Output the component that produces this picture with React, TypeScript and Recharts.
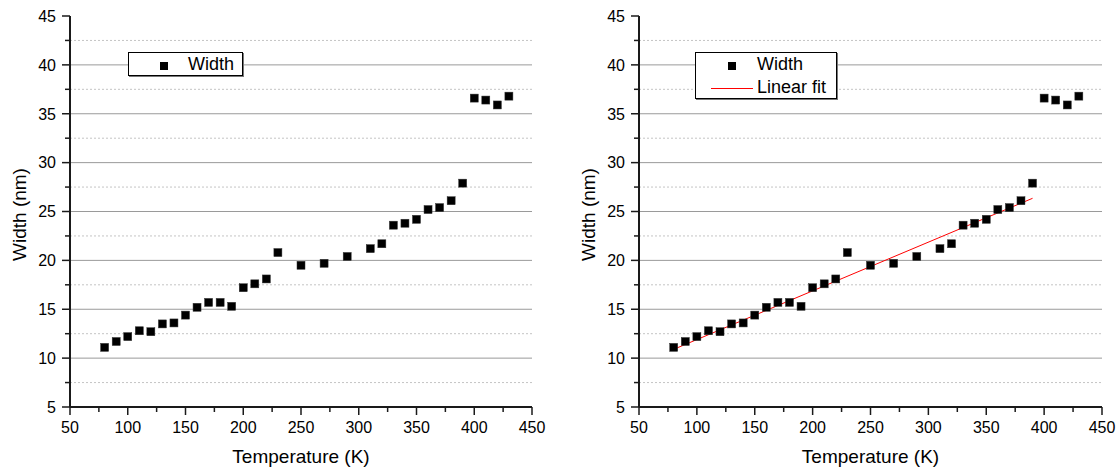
import React from 'react';
import { ComposedChart, Scatter, Line, XAxis, YAxis, ReferenceLine, Legend } from 'recharts';

const temps = [80, 90, 100, 110, 120, 130, 140, 150, 160, 170, 180, 190, 200, 210, 220, 230, 250, 270, 290, 310, 320, 330, 340, 350, 360, 370, 380, 390, 400, 410, 420, 430];
const widths = [11.1, 11.7, 12.2, 12.8, 12.7, 13.5, 13.6, 14.4, 15.2, 15.7, 15.7, 15.3, 17.2, 17.6, 18.1, 20.8, 19.5, 19.7, 20.4, 21.2, 21.7, 23.6, 23.8, 24.2, 25.2, 25.4, 26.1, 27.9, 36.6, 36.4, 35.9, 36.8];

// end points of the linear fit
const fitTemps = [80, 390];
const fitWidths = [10.9, 26.35];

const xTicks = [50, 75, 100, 125, 150, 175, 200, 225, 250, 275, 300, 325, 350, 375, 400, 425, 450];
const yTicks = [5, 7.5, 10, 12.5, 15, 17.5, 20, 22.5, 25, 27.5, 30, 32.5, 35, 37.5, 40, 42.5, 45];
const majorGrid = [10, 15, 20, 25, 30, 35, 40];
const minorGrid = [7.5, 12.5, 17.5, 22.5, 27.5, 32.5, 37.5, 42.5];

const points = temps.map((t, i) => ({ t, w: widths[i] }));
const fit = fitTemps.map((t, i) => ({ t, w: fitWidths[i] }));

const FONT = '"Liberation Sans", Arial, sans-serif';
const AXIS = '#1a1a1a';

const XTick = ({ x, y, payload }: any) => {
  const major = payload.value % 50 === 0;
  return (
    <g>
      <line x1={x} x2={x} y1={y} y2={y + (major ? 8 : 5)} stroke={AXIS} strokeWidth={1.5} />
      {major && (
        <text x={x} y={y + 26} textAnchor="middle" fontSize={16} fontFamily={FONT} fill="#000">
          {payload.value}
        </text>
      )}
    </g>
  );
};

const YTick = ({ x, y, payload }: any) => {
  const major = payload.value % 5 === 0;
  return (
    <g>
      <line x1={x - (major ? 8 : 5)} x2={x} y1={y} y2={y} stroke={AXIS} strokeWidth={1.5} />
      {major && (
        <text x={x - 14} y={y} dy="0.36em" textAnchor="end" fontSize={16} fontFamily={FONT} fill="#000">
          {payload.value}
        </text>
      )}
    </g>
  );
};

const Square = (props: any) => (
  <rect x={props.cx - 4} y={props.cy - 4} width={8} height={8} fill="#000" stroke="#333" strokeWidth={0.5} />
);

const boxStyle: React.CSSProperties = {
  position: 'relative',
  border: '1px solid #000',
  boxShadow: '1px 1px 0 #777',
  background: '#fff',
  fontFamily: FONT,
  fontSize: 18,
  color: '#000',
  boxSizing: 'border-box',
};

const LegendLeft = () => (
  <div style={{ ...boxStyle, width: 115, height: 24 }}>
    <div style={{ position: 'absolute', left: 31, top: 9, width: 8, height: 8, background: '#000' }} />
    <div style={{ position: 'absolute', left: 59, top: 1, lineHeight: '20px' }}>Width</div>
  </div>
);

const LegendRight = () => (
  <div style={{ ...boxStyle, width: 142, height: 47 }}>
    <div style={{ position: 'absolute', left: 32, top: 9, width: 8, height: 8, background: '#000' }} />
    <div style={{ position: 'absolute', left: 61, top: 1, lineHeight: '20px' }}>Width</div>
    <div style={{ position: 'absolute', left: 15, top: 35, width: 42, height: 1, background: '#ff0000' }} />
    <div style={{ position: 'absolute', left: 61, top: 24, lineHeight: '20px' }}>Linear fit</div>
  </div>
);

const yTitle = ({ viewBox }: any) => {
  const cx = viewBox.x + viewBox.width - 51;
  const cy = viewBox.y + viewBox.height / 2 + 3;
  return (
    <text x={cx} y={cy} transform={`rotate(-90 ${cx} ${cy})`} textAnchor="middle" dominantBaseline="central" fontSize={19} fontFamily={FONT} fill="#000">
      Width (nm)
    </text>
  );
};

const xTitle = ({ viewBox }: any) => (
  <text x={viewBox.x + viewBox.width / 2} y={viewBox.y + 56} textAnchor="middle" fontSize={19} fontFamily={FONT} fill="#000">
    Temperature (K)
  </text>
);

function Panel({ withFit, width, yAxisWidth, right }: { withFit: boolean; width: number; yAxisWidth: number; right: number }) {
  return (
    <ComposedChart width={width} height={468} margin={{ top: 16, right, bottom: 0, left: 0 }}>
      <XAxis
        type="number"
        dataKey="t"
        domain={[50, 450]}
        ticks={xTicks}
        interval={0}
        height={61}
        tickSize={0}
        tickMargin={0}
        tickLine={false}
        tick={<XTick />}
        axisLine={{ stroke: AXIS, strokeWidth: 2 }}
        allowDataOverflow
        label={{ content: xTitle }}
      />
      <YAxis
        type="number"
        dataKey="w"
        domain={[5, 45]}
        ticks={yTicks}
        interval={0}
        width={yAxisWidth}
        tickSize={0}
        tickMargin={0}
        tickLine={false}
        tick={<YTick />}
        axisLine={{ stroke: AXIS, strokeWidth: 2 }}
        allowDataOverflow
        label={{ content: yTitle }}
      />
      {minorGrid.map((v) => (
        <ReferenceLine key={'m' + v} y={v} stroke="#c4c4c4" strokeDasharray="2 2" strokeWidth={1} />
      ))}
      {majorGrid.map((v) => (
        <ReferenceLine key={'M' + v} y={v} stroke="#9a9a9a" strokeWidth={1} />
      ))}
      <Legend
        layout="horizontal"
        verticalAlign="middle"
        content={withFit ? <LegendRight /> : <LegendLeft />}
        wrapperStyle={withFit ? { left: 135, top: 52, width: 142, height: 47 } : { left: 128, top: 52, width: 115, height: 24 }}
      />
      <Scatter data={points} dataKey="w" shape={<Square />} isAnimationActive={false} legendType="none" />
      {withFit && (
        <Line data={fit} dataKey="w" type="linear" stroke="#ff0000" strokeWidth={1} dot={false} activeDot={false} isAnimationActive={false} legendType="none" />
      )}
    </ComposedChart>
  );
}

export default function App() {
  return (
    <div style={{ position: 'absolute', left: 0, top: 0, width: 1119, height: 468, background: '#fff' }}>
      <div style={{ position: 'absolute', left: 0, top: 0 }}>
        <Panel withFit={false} width={560} yAxisWidth={70} right={28} />
      </div>
      <div style={{ position: 'absolute', left: 560, top: 0 }}>
        <Panel withFit width={559} yAxisWidth={79} right={17} />
      </div>
    </div>
  );
}
